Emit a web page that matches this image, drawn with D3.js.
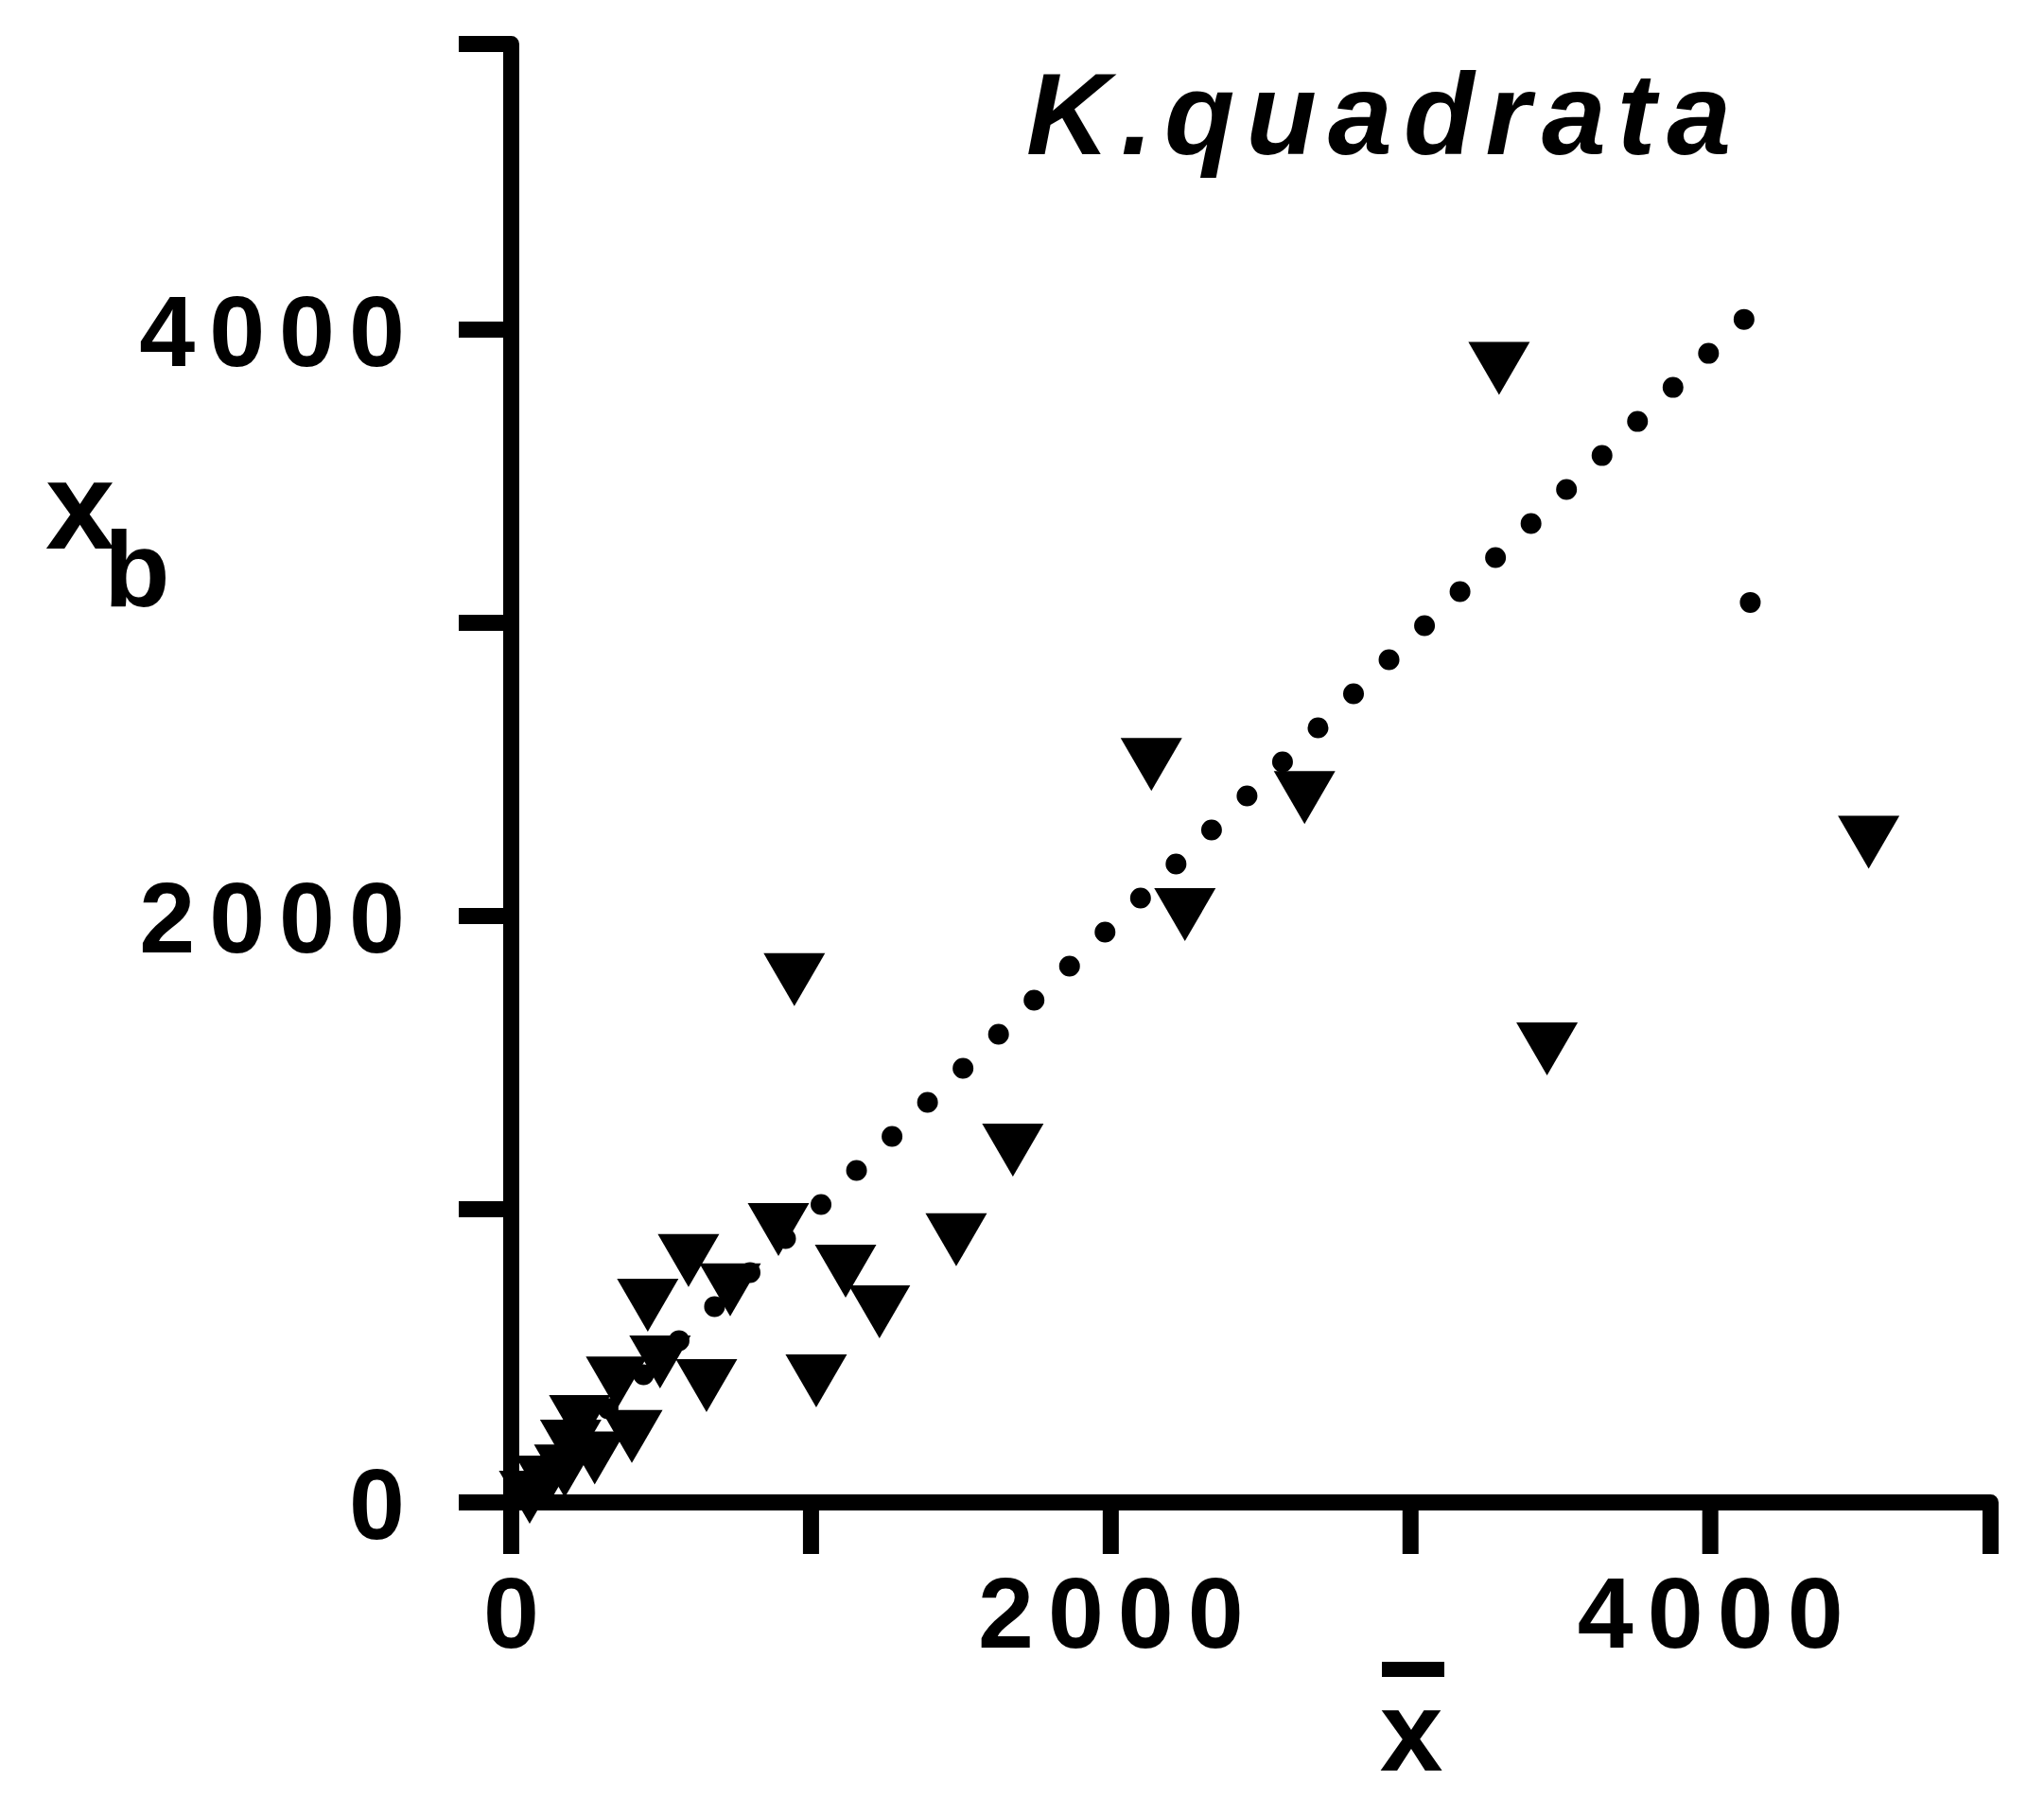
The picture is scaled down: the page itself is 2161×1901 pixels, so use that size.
<!DOCTYPE html>
<html>
<head>
<meta charset="utf-8">
<script src="https://cdn.jsdelivr.net/npm/d3@7"></script>
<style>
  body { margin: 0; background: #fff; }
  text { font-family: "Liberation Sans", Arial, Helvetica, sans-serif; }
</style>
</head>
<body>
<div id="chart"></div>
<script>
// mean count (x bar) vs. x_b, one triangle per sample
const xbarValues = [3297, 4530, 3457, 2137, 2648, 2249, 946, 1675, 1486, 893, 593, 732, 1117,
  1230, 1019, 457, 498, 653, 353, 230, 404, 180, 117, 63, 280, 200];
const xbValues = [3866, 2250, 1545, 2515, 2402, 2003, 1781, 1200, 894, 929, 823, 723, 787,
  648, 413, 671, 477, 397, 406, 274, 223, 106, 68, 16, 150, 190];

// the lone small dot
const dotX = [4135];
const dotY = [3068];

// dotted reference line
const lineX = [0, 4123];
const lineY = [0, 4042];

// axes
const xAxisMax = 4935;
const yAxisMax = 4974;
const xTicks = [0, 1000, 2000, 3000, 4000];
const xLabels = [0, 2000, 4000];
const yTicks = [0, 1000, 2000, 3000, 4000];
const yLabels = [0, 2000, 4000];

const width = 2161;
const height = 1901;
const fontFamily = '"Liberation Sans", Arial, Helvetica, sans-serif';

const x = d3.scaleLinear().domain([0, xAxisMax]).range([540, 2104]);
const y = d3.scaleLinear().domain([0, yAxisMax]).range([1588, 46]);

const svg = d3.select('#chart')
  .append('svg')
  .attr('width', width)
  .attr('height', height)
  .style('background', '#fff');

// dotted line
svg.append('path')
  .attr('d', d3.line()(lineX.map((v, i) => [x(v), y(lineY[i])])))
  .attr('fill', 'none')
  .attr('stroke', '#000')
  .attr('stroke-width', 22)
  .attr('stroke-linecap', 'round')
  .attr('stroke-dasharray', '0 52')
  .attr('stroke-dashoffset', 13.5);

// x axis
const xAxis = d3.axisBottom(x)
  .tickValues(xTicks)
  .tickSize(55)
  .tickSizeOuter(55)
  .tickPadding(24)
  .tickFormat(d => xLabels.includes(d) ? d : '');

const gx = svg.append('g')
  .attr('transform', 'translate(0,1588)')
  .attr('font-family', fontFamily)
  .call(xAxis);

// y axis
const yAxis = d3.axisLeft(y)
  .tickValues(yTicks)
  .tickSize(55)
  .tickSizeOuter(55)
  .tickPadding(42)
  .tickFormat(d => yLabels.includes(d) ? d : '');

const gy = svg.append('g')
  .attr('transform', 'translate(540,0)')
  .attr('font-family', fontFamily)
  .call(yAxis);

[gx, gy].forEach(g => {
  g.select('.domain')
    .attr('stroke', '#000')
    .attr('stroke-width', 17)
    .attr('stroke-linejoin', 'round');
  g.selectAll('.tick line')
    .attr('stroke', '#000')
    .attr('stroke-width', 17);
  g.selectAll('.tick text')
    .attr('fill', '#000')
    .attr('font-size', 106)
    .attr('font-weight', 'bold')
    .attr('letter-spacing', 15);
});
gx.selectAll('.tick text').attr('dx', 7.5);
gy.selectAll('.tick text').attr('dy', '0.36em');

// triangles
svg.selectAll('path.tri')
  .data(d3.zip(xbarValues, xbValues))
  .join('path')
  .attr('class', 'tri')
  .attr('d', 'M-32.5,-28L32.5,-28L0,28Z')
  .attr('fill', '#000')
  .attr('transform', d => `translate(${x(d[0])},${y(d[1])})`);

// lone dot
svg.selectAll('circle.dot')
  .data(d3.zip(dotX, dotY))
  .join('circle')
  .attr('class', 'dot')
  .attr('cx', d => x(d[0]))
  .attr('cy', d => y(d[1]))
  .attr('r', 11)
  .attr('fill', '#000');

// title
svg.append('text')
  .attr('x', 1085)
  .attr('y', 163)
  .attr('font-size', 122)
  .attr('font-weight', 'bold')
  .attr('font-style', 'italic')
  .attr('letter-spacing', 12)
  .attr('fill', '#000')
  .text('K.quadrata');

// y label: x with subscript b
svg.append('text')
  .attr('x', 48)
  .attr('y', 580)
  .attr('font-size', 132)
  .attr('font-weight', 'bold')
  .text('x');
svg.append('text')
  .attr('x', 110)
  .attr('y', 641)
  .attr('font-size', 114)
  .attr('font-weight', 'bold')
  .text('b');

// x label: x with a bar over it
svg.append('text')
  .attr('x', 1492)
  .attr('y', 1872)
  .attr('text-anchor', 'middle')
  .attr('font-size', 120)
  .attr('font-weight', 'bold')
  .text('x');
svg.append('line')
  .attr('x1', 1461)
  .attr('x2', 1527)
  .attr('y1', 1765)
  .attr('y2', 1765)
  .attr('stroke', '#000')
  .attr('stroke-width', 16);
</script>
</body>
</html>
